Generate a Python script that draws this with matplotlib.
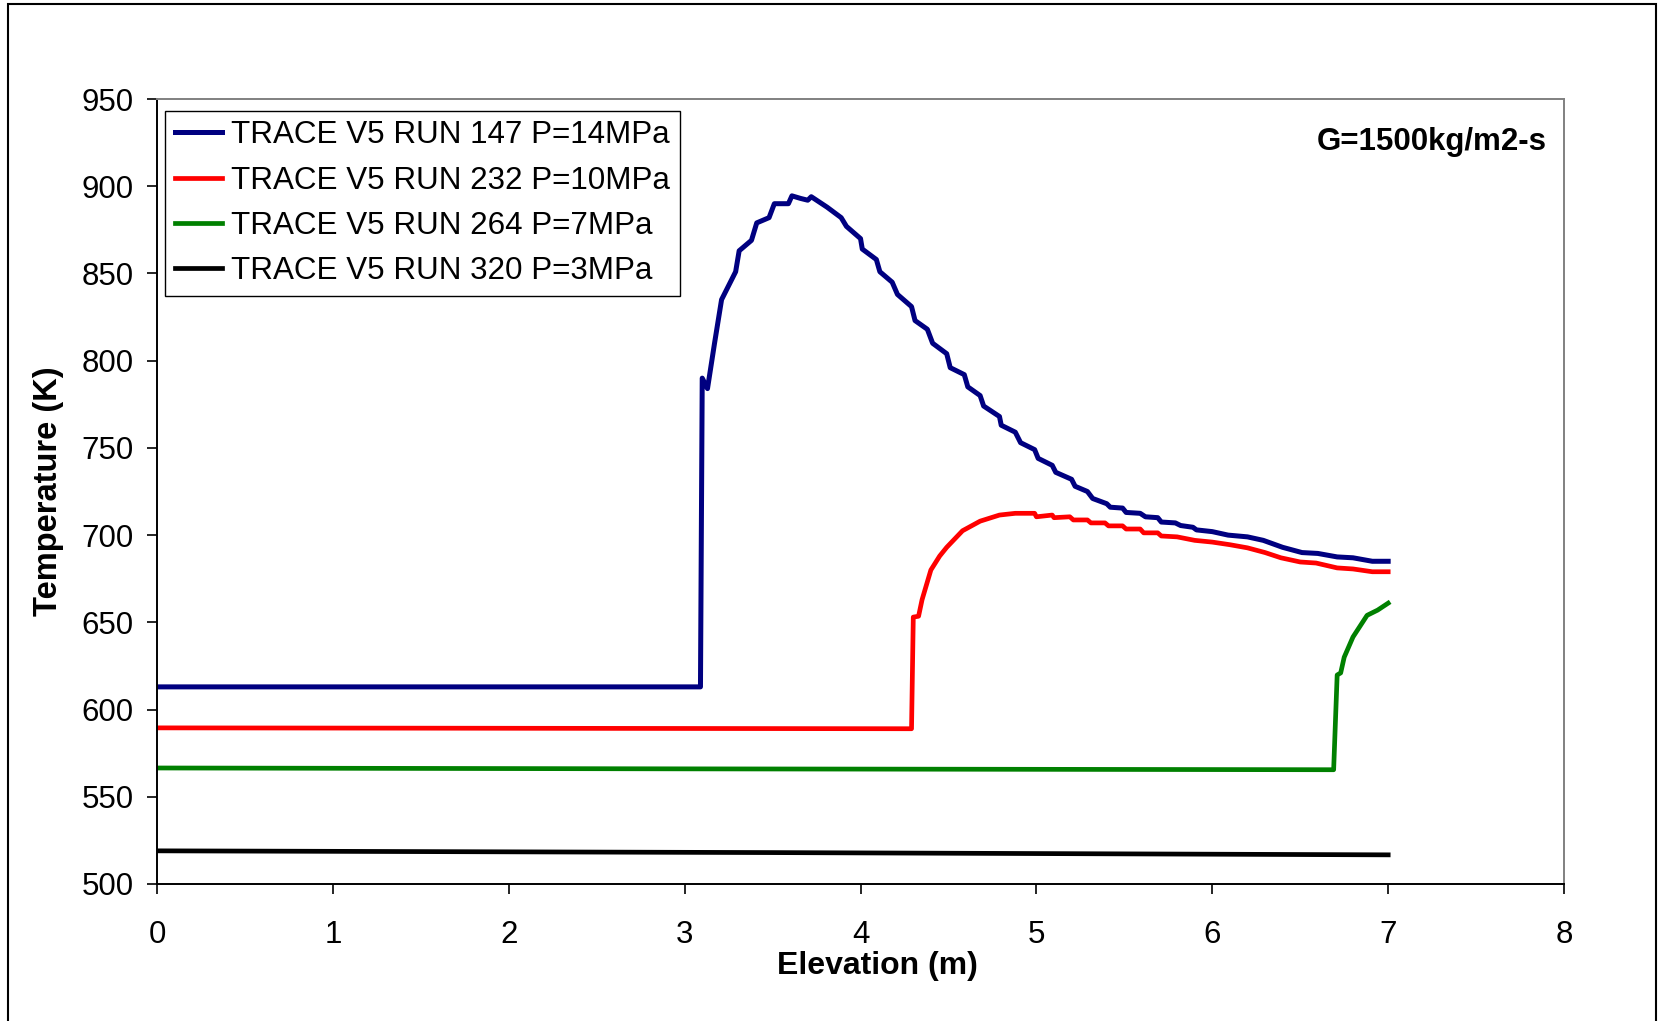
import matplotlib.pyplot as plt
from matplotlib.patches import Rectangle

plt.rcParams['font.family'] = ['Liberation Sans', 'DejaVu Sans']

# data
x147 = [0, 3.09, 3.10, 3.13, 3.17, 3.21, 3.29, 3.31, 3.38, 3.41, 3.48, 3.51, 3.59, 3.61, 3.66,
        3.70, 3.72, 3.81, 3.89, 3.92, 4.00, 4.01, 4.09, 4.11, 4.18, 4.21, 4.29, 4.31, 4.38, 4.41,
        4.49, 4.51, 4.59, 4.61, 4.68, 4.70, 4.79, 4.80, 4.88, 4.91, 4.99, 5.01, 5.09, 5.11, 5.20,
        5.22, 5.29, 5.32, 5.40, 5.42, 5.49, 5.51, 5.59, 5.62, 5.69, 5.71, 5.79, 5.82, 5.89, 5.91,
        6.00, 6.09, 6.20, 6.29, 6.40, 6.51, 6.60, 6.71, 6.80, 6.91, 7.00]
t147 = [613, 613, 790, 784, 810, 835, 851, 863, 869, 879, 882, 890, 890, 894.5, 893,
        892, 894, 888, 882, 877, 870, 864, 858, 851, 845, 838, 831, 823, 818, 810,
        804, 796, 792, 785, 780, 774, 768, 763, 759, 753, 749, 744, 740, 736, 732,
        728, 725, 721, 718, 716, 715.5, 713, 712.5, 710.5, 710, 707.5, 707, 705.5, 704.5, 703,
        702, 700, 699, 697, 693, 690, 689.5, 687.5, 687, 685, 685]

x232 = [0, 4.29, 4.30, 4.33, 4.35, 4.40, 4.45, 4.49, 4.58, 4.68, 4.79, 4.88, 4.99, 5.00, 5.09,
        5.10, 5.19, 5.21, 5.29, 5.31, 5.39, 5.41, 5.49, 5.51, 5.59, 5.61, 5.69, 5.71, 5.80, 5.90,
        6.00, 6.10, 6.20, 6.30, 6.39, 6.50, 6.59, 6.71, 6.80, 6.91, 7.00]
t232 = [589.5, 589, 653, 653.5, 663, 680, 688, 693, 702.5, 708, 711.5, 712.5, 712.5, 710.5, 711.5,
        710, 710.5, 708.7, 708.7, 707, 707, 705.3, 705.3, 703.5, 703.5, 701.3, 701.3, 699.5, 699, 697,
        696, 694.5, 692.7, 690, 687, 684.6, 684, 681.2, 680.6, 679, 679]

x264 = [0, 3.0, 6.69, 6.71, 6.73, 6.75, 6.80, 6.88, 6.94, 7.00]
t264 = [566.5, 566, 565.5, 619.8, 621, 630, 641.6, 654, 657, 661]

x320 = [0, 3.5, 7.0]
t320 = [519, 518, 516.7]

labels = ['TRACE V5 RUN 147 P=14MPa', 'TRACE V5 RUN 232 P=10MPa',
          'TRACE V5 RUN 264 P=7MPa', 'TRACE V5 RUN 320 P=3MPa']
colors = ['#000080', '#ff0000', '#008000', '#000000']

fig = plt.figure(figsize=(16.63, 10.21), dpi=100)
ax = fig.add_axes([0.0944, 0.1342, 0.8461, 0.7688])

ax.plot(x147, t147, color=colors[0], lw=3.6, label=labels[0])
ax.plot(x232, t232, color=colors[1], lw=3.4, label=labels[1])
ax.plot(x264, t264, color=colors[2], lw=3.4, label=labels[2])
ax.plot(x320, t320, color=colors[3], lw=3.4, label=labels[3])

ax.set_xlim(0, 8)
ax.set_ylim(500, 950)
ax.set_xticks(range(0, 9))
ax.set_yticks(range(500, 951, 50))
ax.tick_params(direction='out', length=7, width=1.2, labelsize=22.5)
ax.tick_params(axis='x', pad=19)
ax.tick_params(axis='y', pad=10)
for s in ['left', 'bottom']:
    ax.spines[s].set_linewidth(1.4)
for s in ['top', 'right']:
    ax.spines[s].set_color('#808080')
    ax.spines[s].set_linewidth(1.4)

ax.set_xlabel('Elevation (m)', fontsize=23, fontweight='bold')
ax.xaxis.set_label_coords(0.512, -0.086)
ax.set_ylabel('Temperature (K)', fontsize=23.5, fontweight='bold', labelpad=12)

ax.text(0.988, 0.945, 'G=1500kg/m2-s', transform=ax.transAxes, ha='right', va='center',
        fontsize=22.5, fontweight='bold')

leg = ax.legend(loc='upper left', bbox_to_anchor=(0.006, 0.985), fontsize=22.6, fancybox=False,
                framealpha=1, edgecolor='black', handlelength=1.5, handletextpad=0.3,
                labelspacing=0.49, borderpad=0.3, borderaxespad=0)
leg.get_frame().set_linewidth(1.0)

# outer chart border
fig.add_artist(Rectangle((0.0048, -0.05), 0.991, 1.046, transform=fig.transFigure,
                         fill=False, edgecolor='black', lw=1.5))

fig.savefig('out.png', dpi=100)
